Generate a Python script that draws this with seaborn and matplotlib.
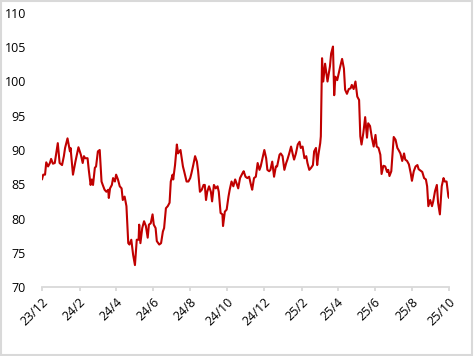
import pandas as pd
import seaborn as sns
import matplotlib.pyplot as plt
import matplotlib.dates as mdates
import matplotlib.transforms as mtransforms
from matplotlib.patches import Rectangle

# days since 2023-12-01
days = [0, 2, 5, 7, 10, 13, 15, 18, 21, 24, 26, 29, 33, 36, 38, 42, 46, 47, 51, 55,
        60, 64, 67, 69, 71, 75, 77, 80, 82, 84, 87, 89, 92, 95, 98, 100, 103, 106, 109, 110,
        112, 115, 117, 120, 122, 125, 128, 131, 133, 136, 139, 142, 144, 147, 150, 153, 156, 159, 160, 162,
        165, 168, 171, 174, 176, 179, 182, 184, 187, 189, 193, 196, 199, 201, 204, 207, 210, 212, 215, 216,
        219, 222, 224, 228, 232, 234, 238, 241, 244, 246, 249, 252, 255, 257, 260, 263, 266, 268, 270, 272,
        275, 278, 280, 283, 286, 289, 291, 294, 297, 298, 301, 304, 307, 309, 312, 315, 318, 320, 323, 326,
        330, 332, 335, 338, 341, 344, 346, 349, 352, 355, 358, 360, 363, 366, 369, 371, 374, 376, 379, 382,
        385, 387, 391, 393, 396, 399, 402, 404, 407, 410, 413, 415, 418, 421, 424, 426, 429, 432, 435, 437,
        440, 443, 446, 448, 451, 453, 455, 458, 459, 461, 463, 466, 470, 474, 476, 479, 481, 483, 486, 488,
        491, 494, 497, 499, 502, 505, 508, 510, 513, 516, 519, 522, 524, 526, 529, 532, 535, 537, 540, 543,
        546, 549, 551, 554, 557, 559, 562, 565, 568, 570, 572, 575, 577, 579, 582, 585, 587, 590, 593, 596,
        598, 601, 604, 607, 609, 612, 615, 618, 620, 623, 626, 629, 632, 634, 636, 639, 642, 644, 647, 650,
        652, 655, 658, 661, 663, 666, 669, 670]
values = [85.7, 86.4, 86.4, 88.2, 87.6, 88.1, 88.7, 88.0, 88.1, 89.8, 91.0, 88.1, 87.8, 89.1, 90.3, 91.7, 89.8, 90.3, 86.4, 88.3,
          90.4, 89.3, 88.1, 89.1, 88.8, 88.8, 87.1, 84.9, 85.7, 84.9, 87.4, 87.6, 89.8, 90.0, 85.4, 84.9, 84.2, 83.9, 84.2, 83.0,
          84.4, 84.9, 85.9, 85.4, 86.4, 85.7, 84.7, 84.4, 82.7, 83.2, 81.8, 76.4, 76.2, 76.9, 74.7, 73.2, 76.9, 76.9, 79.1, 76.4,
          78.6, 79.6, 78.9, 77.2, 79.1, 79.3, 80.6, 79.1, 78.6, 76.7, 76.2, 76.4, 78.1, 78.6, 81.5, 81.8, 82.3, 85.4, 86.4, 85.7,
          87.8, 90.8, 89.5, 90.0, 87.6, 86.9, 85.4, 85.4, 85.9, 86.6, 87.8, 89.1, 88.3, 86.9, 83.9, 84.2, 84.9, 84.9, 82.7, 83.9,
          84.7, 83.9, 82.5, 84.9, 84.4, 84.7, 83.9, 80.8, 80.6, 78.9, 81.0, 81.3, 83.2, 84.2, 85.4, 84.7, 85.7, 85.2, 84.4, 85.9,
          86.6, 86.9, 86.1, 85.9, 86.1, 84.9, 84.2, 85.9, 86.1, 88.1, 87.1, 87.6, 88.8, 90.0, 88.8, 87.1, 86.9, 87.1, 88.3, 86.1,
          87.6, 87.6, 89.3, 89.5, 89.1, 87.1, 88.1, 88.6, 89.5, 90.5, 89.3, 88.6, 89.5, 90.8, 91.2, 90.3, 90.5, 88.8, 89.1, 88.1,
          87.1, 87.4, 87.8, 89.8, 90.3, 87.8, 89.3, 91.0, 92.0, 103.4, 100.0, 102.6, 100.0, 102.2, 104.1, 105.1, 98.0, 100.7, 100.2, 101.0,
          102.2, 103.3, 101.9, 98.8, 98.2, 98.9, 99.0, 99.5, 98.9, 100.0, 97.8, 97.3, 92.0, 90.8, 92.5, 94.8, 91.8, 93.9, 93.5, 91.8,
          90.5, 92.2, 90.5, 90.3, 89.3, 86.5, 87.7, 87.6, 86.8, 87.1, 86.2, 86.9, 89.5, 91.9, 91.5, 90.3, 90.0, 89.5, 88.4, 89.5,
          88.6, 88.4, 87.9, 86.6, 85.5, 86.9, 87.6, 87.8, 87.2, 87.0, 86.8, 85.9, 85.7, 84.7, 81.8, 82.7, 81.8, 82.5, 84.0, 84.9,
          82.3, 80.6, 84.7, 85.9, 85.4, 85.4, 83.2, 83.0]

start = pd.Timestamp('2023-12-01')
end = pd.Timestamp('2025-10-01')
df = pd.DataFrame({'date': start + pd.to_timedelta(days, unit='D'), 'value': values})

sns.set_style('white')
plt.rcParams['font.family'] = ['Open Sans', 'DejaVu Sans']

fig = plt.figure(figsize=(4.74, 3.56), dpi=100)
ax = fig.add_axes([42 / 474, 1 - 287 / 356, 407 / 474, 274 / 356])
sns.lineplot(data=df, x='date', y='value', color='#C00000', linewidth=1.5, ax=ax)

ax.set_xlim(start, end)
ax.set_ylim(70, 110)
ax.set_yticks(range(70, 111, 5))
ax.xaxis.set_major_locator(mdates.MonthLocator(bymonth=[12, 2, 4, 6, 8, 10]))
ax.xaxis.set_major_formatter(plt.FuncFormatter(
    lambda x, pos: f"{mdates.num2date(x).year % 100}/{mdates.num2date(x).month}"))
ax.set_xlabel('')
ax.set_ylabel('')

for s in ['top', 'right', 'left']:
    ax.spines[s].set_visible(False)
ax.spines['bottom'].set_color('#d9d9d9')
ax.spines['bottom'].set_linewidth(1.3)
ax.tick_params(axis='x', length=3, width=1.3, color='#d9d9d9', direction='out',
               pad=6.5, labelsize=9, labelcolor='#000000', bottom=True)
ax.tick_params(axis='y', length=0, pad=11.5, labelsize=9, labelcolor='#000000')

fig.canvas.draw()
shift = mtransforms.ScaledTranslation(4 / 100, 0, fig.dpi_scale_trans)
for tick in ax.xaxis.get_major_ticks():
    lbl = tick.label1
    lbl.set_rotation(45)
    lbl.set_ha('right')
    lbl.set_va('center')
    lbl.set_rotation_mode('anchor')
    lbl.set_transform(lbl.get_transform() + shift)

fig.patches.append(Rectangle((0.002, 0.003), 0.994, 0.993, transform=fig.transFigure,
                             fill=False, edgecolor='#d9d9d9', linewidth=1.5))

fig.savefig('out.png', dpi=100)
